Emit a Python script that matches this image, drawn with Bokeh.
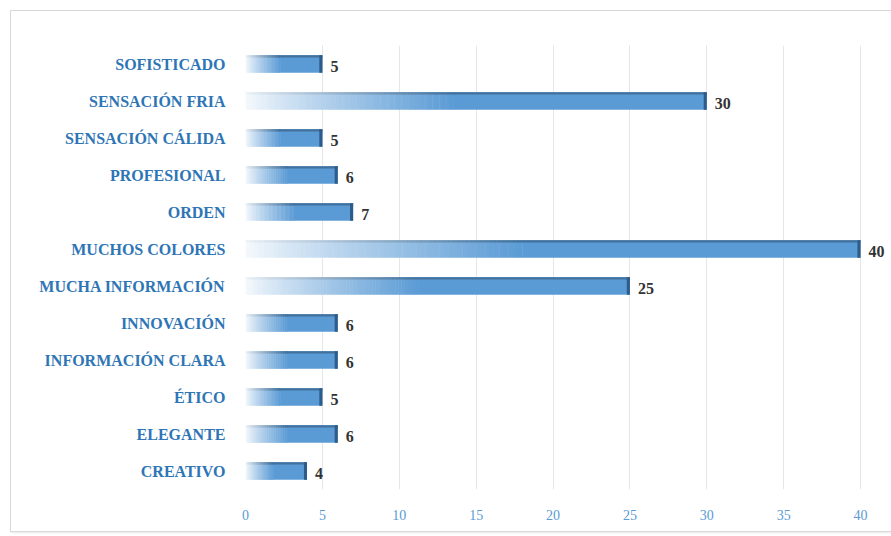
from bokeh.plotting import figure
from bokeh.models import ColumnDataSource, Range1d, FactorRange, FixedTicker
from bokeh.transform import dodge
from bokeh.embed import file_html
from bokeh.resources import INLINE
from bokeh.core.properties import value

# ---- data (top to bottom as in the picture) ----
categories = ["SOFISTICADO", "SENSACIÓN FRIA", "SENSACIÓN CÁLIDA", "PROFESIONAL",
              "ORDEN", "MUCHOS COLORES", "MUCHA INFORMACIÓN", "INNOVACIÓN",
              "INFORMACIÓN CLARA", "ÉTICO", "ELEGANTE", "CREATIVO"]
counts = [5, 30, 5, 6, 7, 40, 25, 6, 6, 5, 6, 4]
x_ticks = [0, 5, 10, 15, 20, 25, 30, 35, 40]

factors = list(reversed(categories))

p = figure(width=881, height=520, output_backend="svg", toolbar_location=None,
           y_range=FactorRange(factors=factors, range_padding=0),
           x_range=Range1d(0, 42.08),
           frame_width=647, frame_height=444,
           min_border_left=234, min_border_right=0,
           min_border_top=34, min_border_bottom=42)
p.styles = {"margin-left": "10px", "margin-top": "10px",
            "border": "1px solid #d9d9d9", "box-shadow": "1px 1px 2px #e8e8e8"}
p.background_fill_color = "white"
p.border_fill_color = "white"
p.outline_line_color = None


def mix(c1, c2, t):
    a = [int(c1[i:i + 2], 16) for i in (1, 3, 5)]
    b = [int(c2[i:i + 2], 16) for i in (1, 3, 5)]
    return "#%02x%02x%02x" % tuple(round(a[j] + (b[j] - a[j]) * t) for j in range(3))


bh = 0.47
N = 60
FRAC = 0.45
sy, sl, sr, sc, tc = [], [], [], [], []
for c, v in zip(categories, counts):
    span = v * FRAC
    for k in range(N):
        t = ((k + 0.5) / N) ** 0.85
        sy.append(c)
        sl.append(span * k / N)
        sr.append(span * (k + 1) / N + 0.03)
        sc.append(mix("#f7fafd", "#5B9BD5", t))
        tc.append(mix("#eef3f8", "#41719C", t))
    sy.append(c)
    sl.append(span)
    sr.append(v)
    sc.append("#5B9BD5")
    tc.append("#41719C")
seg = ColumnDataSource(dict(y=sy, l=sl, r=sr, c=sc, tc=tc))

# bar body (gradient from white to blue)
p.hbar(y="y", left="l", right="r", height=bh, source=seg,
       fill_color="c", line_color=None)
# darker top bevel
p.hbar(y=dodge("y", bh / 2 - 0.03, range=p.y_range), left="l", right="r",
       height=0.06, source=seg, fill_color="tc", line_color=None)

src = ColumnDataSource(dict(cat=categories, v=counts,
                            lab=[str(c) for c in counts],
                            cap=[c - 0.2 for c in counts]))
# dark right cap
p.hbar(y="cat", left="cap", right="v", height=bh, source=src,
       fill_color="#2E5C8A", line_color=None)

# value labels
p.text(x="v", y="cat", text="lab", source=src, x_offset=8, y_offset=2,
       text_align="left", text_baseline="middle",
       text_font=value("Liberation Serif"), text_font_style="bold",
       text_font_size="16px", text_color="#333333")

# axes
p.xaxis.ticker = FixedTicker(ticks=x_ticks)
p.xaxis.axis_line_color = None
p.xaxis.major_tick_line_color = None
p.xaxis.minor_tick_line_color = None
p.xaxis.major_label_standoff = 14
p.xaxis.major_label_text_font = "Liberation Serif"
p.xaxis.major_label_text_font_size = "14px"
p.xaxis.major_label_text_color = "#5B9BD5"

p.yaxis.axis_line_color = None
p.yaxis.major_tick_line_color = None
p.yaxis.major_label_standoff = 14
p.yaxis.major_label_text_font = "Liberation Serif"
p.yaxis.major_label_text_font_style = "bold"
p.yaxis.major_label_text_font_size = "16px"
p.yaxis.major_label_text_color = "#2E75B6"

p.xgrid.ticker = FixedTicker(ticks=x_ticks)
p.xgrid.grid_line_color = "#e6e6e6"
p.ygrid.grid_line_color = None

open("out.html", "w").write(file_html(p, INLINE))
